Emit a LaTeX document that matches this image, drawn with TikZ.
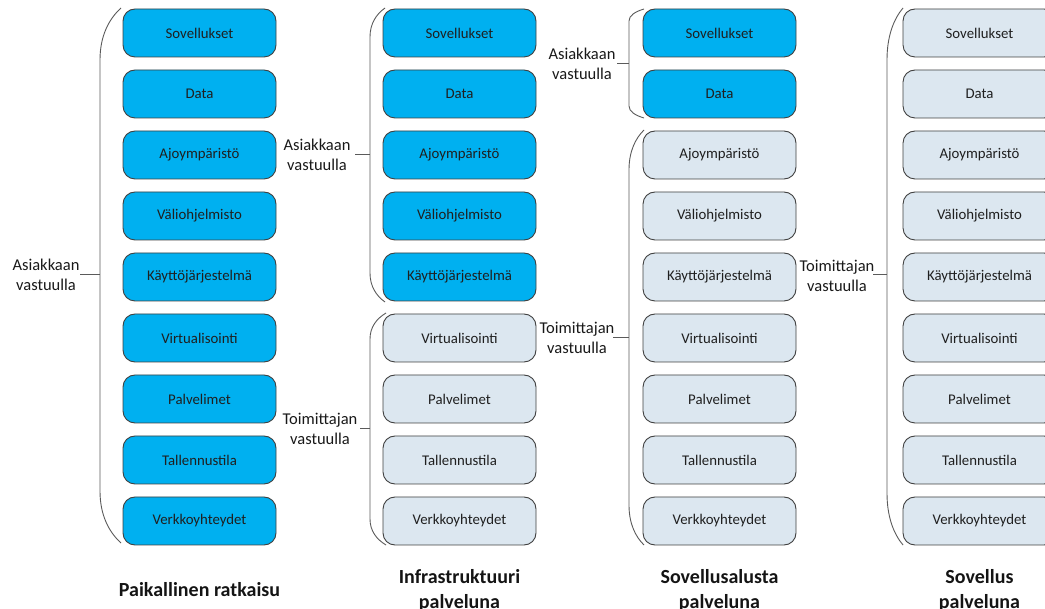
\documentclass[tikz,border=0pt]{standalone}
\usepackage{fontspec}
\setmainfont{Carlito}
\begin{document}
\begin{tikzpicture}[x=1pt,y=-1pt,
  layer/.style={rectangle, rounded corners=12pt, draw=boxline, line width=0.9pt,
    minimum width=153pt, minimum height=48pt, inner sep=0pt,
    font=\fontsize{14.8}{17}\selectfont, text=black!88},
  own/.style={layer, fill=ownblue},
  vendor/.style={layer, fill=vendorblue},
  bracket/.style={draw=braceline, line width=0.9pt},
  tick/.style={draw=braceline, line width=0.9pt},
  party/.style={align=center, inner sep=0pt, font=\fontsize{16.5}{20.5}\selectfont, text=black!90},
  heading/.style={align=center, inner sep=0pt, font=\bfseries\fontsize{20}{25}\selectfont, text=black!92}
]
\definecolor{ownblue}{HTML}{00B0F0}
\definecolor{vendorblue}{HTML}{DCE7F0}
\definecolor{boxline}{HTML}{404040}
\definecolor{braceline}{HTML}{5A5A5A}

\useasboundingbox (0,0) rectangle (1045,609);
\clip (0,0) rectangle (1045,609);

% brace: #1 spine x, #2 tip x, #3 top y, #4 bottom y, #5 end radius, #6 middle coordinate name, #7 middle y
\newcommand\sidebrace[7]{%
  \draw[bracket] (#2,#3) .. controls ({#2-0.6*(#2-#1)},{#3+0.22*#5}) and (#1,{#3+0.55*#5}) .. (#1,{#3+#5})
    -- (#1,{#4-#5}) .. controls (#1,{#4-0.55*#5}) and ({#2-0.6*(#2-#1)},{#4-0.22*#5}) .. (#2,#4);
  \coordinate (#6) at (#1,#7);
}

% layer stacks
\foreach \lbl [count=\i from 0] in {Sovellukset,Data,Ajoympäristö,Väliohjelmisto,Käyttöjärjestelmä,Virtualisointi,Palvelimet,Tallennustila,Verkkoyhteydet}{
  \pgfmathsetmacro\yy{33+61*\i}
  \node[own] (a\i) at (199.5,\yy) {\lbl};
  \ifnum\i<5 \node[own] (b\i) at (459.5,\yy) {\lbl};
  \else \node[vendor] (b\i) at (459.5,\yy) {\lbl}; \fi
  \ifnum\i<2 \node[own] (c\i) at (719.5,\yy) {\lbl};
  \else \node[vendor] (c\i) at (719.5,\yy) {\lbl}; \fi
  \node[vendor] (d\i) at (979.5,\yy) {\lbl};
}

% braces
\sidebrace{100}{121}{8}{543}{52}{m1}{274}
\sidebrace{370}{385}{8}{302}{29}{m2}{154}
\sidebrace{370}{386}{313}{545}{26}{m3}{428}
\sidebrace{629}{644}{9}{118}{12}{m4}{63}
\sidebrace{629}{644}{130}{545}{40}{m5}{337}
\sidebrace{887}{903}{8}{545}{52}{m6}{274}

% responsibility labels
\node[party] (p1) at (46,275) {Asiakkaan\\vastuulla};
\node[party] (p2) at (317,155) {Asiakkaan\\vastuulla};
\node[party] (p3) at (320,429) {Toimittajan\\vastuulla};
\node[party] (p4) at (582,64) {Asiakkaan\\vastuulla};
\node[party] (p5) at (577,338) {Toimittajan\\vastuulla};
\node[party] (p6) at (837,276) {Toimittajan\\vastuulla};

\coordinate (t1) at (80,274);
\coordinate (t2) at (355,154);
\coordinate (t3) at (360,428);
\coordinate (t4) at (617,63);
\coordinate (t5) at (613,337);
\coordinate (t6) at (873,274);
\foreach \k in {1,...,6}{ \draw[tick] (t\k) -- (m\k); }

% column headings
\node[heading] (h1) at (199.5,590) {Paikallinen ratkaisu};
\node[heading] (h2) at (459.5,590.5) {Infrastruktuuri\\palveluna};
\node[heading] (h3) at (719.5,590.5) {Sovellusalusta\\palveluna};
\node[heading] (h4) at (979.5,590.5) {Sovellus\\palveluna};
\end{tikzpicture}
\end{document}
